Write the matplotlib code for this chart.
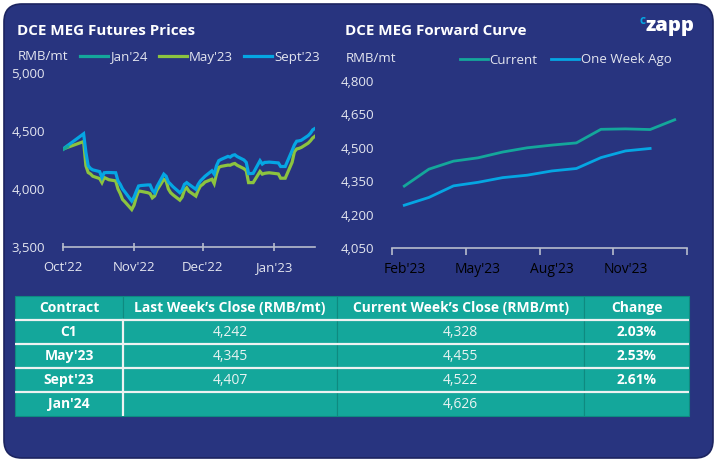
import matplotlib
matplotlib.use("Agg")
import matplotlib.pyplot as plt
import matplotlib.dates as mdates
import pandas as pd
from matplotlib.patches import FancyBboxPatch

# ---- data ---------------------------------------------------------------
fut_dates = [
    "2022-10-01", "2022-10-10", "2022-10-11", "2022-10-12", "2022-10-13", "2022-10-14",
    "2022-10-17", "2022-10-18", "2022-10-19", "2022-10-20", "2022-10-21", "2022-10-24",
    "2022-10-25", "2022-10-26", "2022-10-27", "2022-10-28", "2022-10-31", "2022-11-01",
    "2022-11-02", "2022-11-03", "2022-11-04", "2022-11-07", "2022-11-08", "2022-11-09",
    "2022-11-10", "2022-11-11", "2022-11-14", "2022-11-15", "2022-11-16", "2022-11-17",
    "2022-11-18", "2022-11-21", "2022-11-22", "2022-11-23", "2022-11-24", "2022-11-25",
    "2022-11-28", "2022-11-29", "2022-11-30", "2022-12-01", "2022-12-02", "2022-12-05",
    "2022-12-06", "2022-12-07", "2022-12-08", "2022-12-09", "2022-12-12", "2022-12-13",
    "2022-12-14", "2022-12-15", "2022-12-16", "2022-12-19", "2022-12-20", "2022-12-21",
    "2022-12-22", "2022-12-23", "2022-12-26", "2022-12-27", "2022-12-28", "2022-12-29",
    "2022-12-30", "2023-01-03", "2023-01-04", "2023-01-05", "2023-01-06", "2023-01-09",
    "2023-01-10", "2023-01-11", "2023-01-12", "2023-01-13", "2023-01-16", "2023-01-17",
    "2023-01-18", "2023-01-19",
]
sept23 = [
    4345, 4476, 4316, 4200, 4177, 4165, 4150, 4099, 4140, 4142, 4142, 4140,
    4070, 4040, 4000, 3975, 3896, 3930, 3980, 4026, 4030, 4035, 4035, 3990,
    3968, 4020, 4128, 4110, 4060, 4041, 4020, 3968, 3990, 4040, 4055, 4040,
    3997, 4040, 4070, 4090, 4110, 4157, 4128, 4200, 4244, 4255, 4281, 4275,
    4290, 4295, 4280, 4250, 4229, 4133, 4133, 4135, 4244, 4215, 4229, 4230,
    4232, 4225, 4194, 4194, 4194, 4331, 4380, 4412, 4415, 4420, 4460, 4480,
    4510, 4522,
]
may23 = [
    4345, 4409, 4200, 4142, 4130, 4110, 4090, 4055, 4099, 4090, 4080, 4070,
    4000, 3960, 3910, 3890, 3823, 3860, 3930, 3983, 3980, 3968, 3960, 3924,
    3940, 3990, 4084, 4070, 4000, 3968, 3950, 3904, 3930, 3990, 4011, 3980,
    3939, 3990, 4026, 4040, 4060, 4084, 4046, 4130, 4186, 4195, 4206, 4205,
    4215, 4220, 4205, 4175, 4157, 4055, 4055, 4055, 4151, 4128, 4135, 4138,
    4140, 4130, 4093, 4093, 4093, 4230, 4320, 4345, 4350, 4358, 4395, 4415,
    4440, 4455,
]
jan24_dates = ["2022-10-01", "2022-10-03"]
jan24 = [4340, 4365]

curve_months = ["Feb'23", "Mar'23", "Apr'23", "May'23", "Jun'23", "Jul'23",
                "Aug'23", "Sep'23", "Oct'23", "Nov'23", "Dec'23", "Jan'24"]
curve_current = [4328, 4404, 4440, 4455, 4481, 4500, 4512, 4522, 4583, 4585, 4582, 4626]
curve_week_ago = [4242, 4277, 4329, 4345, 4366, 4377, 4396, 4407, 4456, 4486, 4497]

table_header = ["Contract", "Last Week\u2019s Close (RMB/mt)",
                "Current Week\u2019s Close (RMB/mt)", "Change"]
table_contracts = ["C1", "May'23", "Sept'23", "Jan'24"]
table_last = ["4,242", "4,345", "4,407", ""]
table_current = ["4,328", "4,455", "4,522", "4,626"]
table_change = ["2.03%", "2.53%", "2.61%", ""]

# ---- style --------------------------------------------------------------
NAVY = "#28347f"
TEAL = "#14a79b"
BLUE = "#05a6e3"
GREEN = "#8cc43f"
TXT = "#e4e6f0"
AXIS = "#b8bccc"

plt.rcParams["font.family"] = ["Open Sans", "DejaVu Sans"]

W, H = 715, 461
fig = plt.figure(figsize=(W / 100, H / 100), dpi=100, facecolor="white")


def fx(px):
    return px / W


def fy(py):
    return 1 - py / H


# rounded navy panel, kept behind the axes
panel = FancyBboxPatch((fx(4), fy(458)), fx(709), 454 / H,
                       boxstyle="round,pad=0,rounding_size=0.025",
                       transform=fig.transFigure, facecolor=NAVY,
                       edgecolor="#1c2460", linewidth=1.2, mutation_aspect=W / H,
                       zorder=-10)
fig.patches.append(panel)

# titles and logo
fig.text(fx(17), fy(31), "DCE MEG Futures Prices", color="white",
         fontsize=10.9, fontweight="bold", va="center", ha="left")
fig.text(fx(345), fy(31), "DCE MEG Forward Curve", color="white",
         fontsize=10.9, fontweight="bold", va="center", ha="left")
fig.text(fx(645), fy(26), "zapp", color="white", fontsize=14.5,
         fontweight="heavy", va="center", ha="left")
fig.text(fx(639), fy(20), "c", color=BLUE, fontsize=8.5,
         fontweight="bold", va="center", ha="left")
fig.text(fx(18), fy(57), "RMB/mt", color=TXT, fontsize=9.5, va="center", ha="left")
fig.text(fx(346), fy(59), "RMB/mt", color=TXT, fontsize=9.5, va="center", ha="left")


def style_axes(ax):
    ax.set_facecolor("none")
    ax.patch.set_alpha(0)
    for s in ["top", "right", "left"]:
        ax.spines[s].set_visible(False)
    ax.spines["bottom"].set_color(AXIS)
    ax.spines["bottom"].set_linewidth(1.2)
    ax.tick_params(axis="y", length=0, colors=TXT, labelsize=9.5, pad=13)
    ax.tick_params(axis="x", colors=TXT, labelsize=9.5)
    ax.tick_params(axis="x", which="both", color=AXIS)


# ---- left: futures prices ----------------------------------------------
ax1 = fig.add_axes([fx(63), fy(247), fx(315 - 63), (247 - 73) / H])
style_axes(ax1)
d = pd.to_datetime(fut_dates)
ax1.plot(d, may23, color=GREEN, lw=2.3, label="May'23", solid_joinstyle="miter")
ax1.plot(d, sept23, color=BLUE, lw=2.3, label="Sept'23", solid_joinstyle="miter")
ax1.plot(pd.to_datetime(jan24_dates), jan24, color=TEAL, lw=2.3, label="Jan'24")
ax1.set_ylim(3500, 5000)
ax1.set_yticks([3500, 4000, 4500, 5000])
ax1.set_yticklabels(["3,500", "4,000", "4,500", "5,000"])
ax1.set_xlim(pd.Timestamp("2022-10-01"), pd.Timestamp("2023-01-19"))
ax1.set_xticks(pd.to_datetime(["2022-10-01", "2022-11-01", "2022-12-01", "2023-01-01"]))
ax1.xaxis.set_major_formatter(mdates.DateFormatter("%b'%y"))
ax1.tick_params(axis="x", direction="inout", length=6, width=1.2, pad=7)
h, l = ax1.get_legend_handles_labels()
order = [2, 0, 1]
leg1 = ax1.legend([h[i] for i in order], [l[i] for i in order], ncol=3,
                  frameon=False, loc="center left", bbox_to_anchor=(fx(80), fy(57)),
                  bbox_transform=fig.transFigure, fontsize=9.5, handlelength=2.1,
                  handletextpad=0.15, columnspacing=0.9, borderpad=0, borderaxespad=0)
for t in leg1.get_texts():
    t.set_color(TXT)

# ---- right: forward curve ----------------------------------------------
ax2 = fig.add_axes([fx(392), fy(248), fx(687 - 392), (248 - 81) / H])
style_axes(ax2)
ax2.plot(range(len(curve_current)), curve_current, color=TEAL, lw=2.0, label="Current")
ax2.plot(range(len(curve_week_ago)), curve_week_ago, color=BLUE, lw=2.0, label="One Week Ago")
ax2.set_ylim(4050, 4800)
ax2.set_yticks(range(4050, 4801, 150))
ax2.set_yticklabels([f"{v:,}" for v in range(4050, 4801, 150)])
ax2.set_xlim(-0.5, len(curve_months) - 0.5)
ax2.set_xticks([-0.5, 2.5, 5.5, 8.5, 11.5])
ax2.set_xticklabels([])
ax2.set_xticks([0, 3, 6, 9], minor=True)
ax2.set_xticklabels([curve_months[i] for i in [0, 3, 6, 9]], minor=True)
ax2.tick_params(axis="x", which="major", direction="out", length=5, width=1.2)
ax2.tick_params(axis="x", which="minor", length=0, pad=10)
leg2 = ax2.legend(ncol=2, frameon=False, loc="center left",
                  bbox_to_anchor=(fx(460), fy(60)), bbox_transform=fig.transFigure,
                  fontsize=9.5, handlelength=2.1, handletextpad=0.15,
                  columnspacing=1.0, borderpad=0, borderaxespad=0)
for t in leg2.get_texts():
    t.set_color(TXT)

# ---- table ---------------------------------------------------------------
axt = fig.add_axes([fx(15), fy(416), fx(689 - 15), (416 - 296) / H])
axt.axis("off")
rows = [table_header] + [
    [c, a, b, ch] for c, a, b, ch in zip(table_contracts, table_last, table_current, table_change)
]
col_w = [108, 214, 247, 105]
tot = sum(col_w)
tbl = axt.table(cellText=rows, colWidths=[w / tot for w in col_w],
                bbox=[0, 0, 1, 1], cellLoc="center")
tbl.auto_set_font_size(False)
for (r, c), cell in tbl.get_celld().items():
    cell.set_facecolor(TEAL)
    cell.set_edgecolor("#0f8a80")
    cell.set_linewidth(0.8)
    txt = cell.get_text()
    txt.set_fontsize(10)
    if r == 0 or c in (0, 3):
        txt.set_color("white")
        txt.set_fontweight("bold")
    else:
        txt.set_color("#e8f3f2")
# white row separators and first column separator
n_rows = len(rows)
for i in range(1, n_rows):
    axt.axhline(1 - i / n_rows, color="#eef2f2", lw=1.6, zorder=5)
axt.plot([col_w[0] / tot] * 2, [0, 1 - 1 / n_rows], color="#eef2f2", lw=1.6, zorder=5)
axt.set_xlim(0, 1)
axt.set_ylim(0, 1)

fig.savefig("out.png", dpi=100, facecolor="white")
